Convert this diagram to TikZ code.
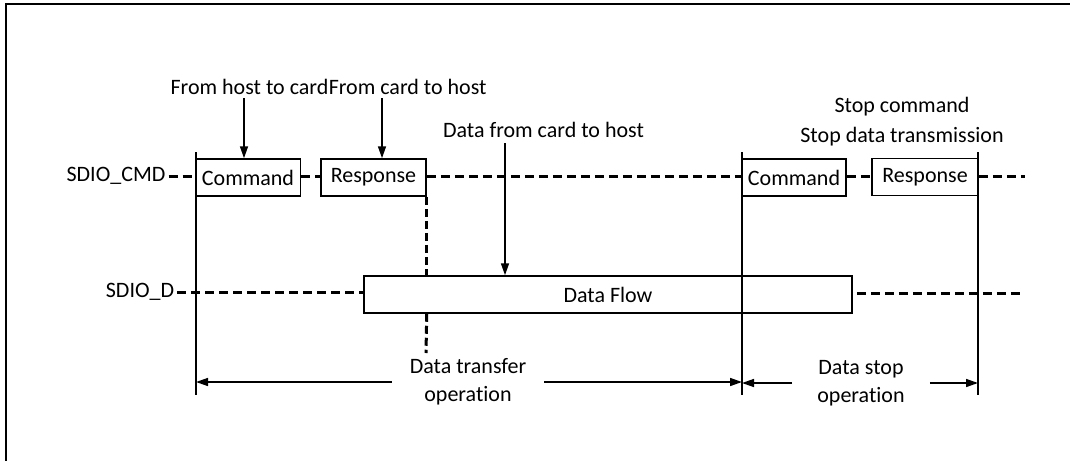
\documentclass[tikz,border=0pt]{standalone}
\usepackage{fontspec}
\setmainfont[Ligatures=NoCommon]{Carlito}
\usetikzlibrary{arrows.meta,positioning}
\begin{document}
\begin{tikzpicture}[x=1pt,y=-1pt,
	font=\fontsize{22}{28}\selectfont,
	frame/.style={ draw, line width=1.8pt },
	packet/.style={ draw, fill=white, line width=1.5pt, inner sep=0pt, minimum height=37pt },
	bus/.style={ line width=3pt, dash pattern=on 9pt off 5pt },
	busv/.style={ line width=3pt, dash pattern=on 8pt off 4pt },
	marker/.style={ line width=1.5pt },
	pointer/.style={ line width=1.5pt, -{Triangle[length=12pt,width=8pt]} },
	caption/.style={ inner sep=0pt, align=center }
]
\useasboundingbox (0,0) rectangle (1070,461);
\draw[frame] (1070,4) -- (6,4) -- (6,461);

% signal names
\node at (116,176) (cmd) [caption] {SDIO\_CMD};
\node at (140,292) (dat) [caption] {SDIO\_D};

% packets
\node at (248,177.5) (cmd1) [packet,minimum width=105pt] {Command};
\node at (373.5,177.5) (rsp1) [packet,minimum width=105pt] {Response};
\node at (794,177.5) (cmd2) [packet,minimum width=104pt] {Command};
\node at (925,177) (rsp2) [packet,minimum width=106pt] {Response};
\node at (608,294.5) (flow) [packet,minimum width=488pt] {Data Flow};

% dashed bus lines
\coordinate (cmdend) at (1025,176);
\coordinate (datend) at (1020,293);
\draw[bus] (cmd.east) ++(3,0) -- (cmd.east -| cmd1.west);
\draw[bus] (cmd1.east |- cmdend) -- (rsp1.west |- cmdend);
\draw[bus] (rsp1.east |- cmdend) -- (cmd2.west |- cmdend);
\draw[bus] (cmd2.east |- cmdend) -- (rsp2.west |- cmdend);
\draw[bus] (rsp2.east |- cmdend) -- (cmdend);
\draw[bus] (dat.east) ++(3,0) -- (dat.east -| flow.west);
\draw[bus] ([xshift=4pt]flow.east |- datend) -- (datend);

% timing markers
\coordinate (t1) at (196,152);
\coordinate (t2) at (742,152);
\coordinate (t3) at (978,152);
\coordinate (b1) at (196,395);
\coordinate (b2) at (742,395);
\coordinate (b3) at (978,395);
\draw[marker] (t1) -- (b1);
\draw[marker] (t2) -- (b2);
\draw[marker] (t3) -- (b3);
\coordinate (d1) at (426,353);
\draw[busv] (rsp1.south east) -- (rsp1.south east |- flow.north);
\draw[busv] (flow.south -| rsp1.east) -- (d1);

% annotations
\node at (249.5,87) (h2c) [caption] {From host to card};
\node (c2h) [caption,right=0pt of h2c] {From card to host};
\node at (543.5,130) (d2h) [caption] {Data from card to host};
\node at (902,122) (stop) [caption,font=\fontsize{22}{30}\selectfont] {Stop command\\Stop data transmission};
\coordinate (p1) at (244,98);
\coordinate (p2) at (382,98);
\coordinate (p3) at (505,143);
\draw[pointer] (p1) -- (p1 |- cmd1.north);
\draw[pointer] (p2) -- (p2 |- rsp1.north);
\draw[pointer] (p3) -- (p3 |- flow.north);

% operation spans
\node at (468,382) (xfer) [caption,inner xsep=18pt] {Data transfer\\operation};
\node at (861,383) (halt) [caption,inner xsep=25pt] {Data stop\\operation};
\draw[pointer] (xfer.west) -- (xfer.west -| t1);
\draw[pointer] (xfer.east) -- (xfer.east -| t2);
\draw[pointer] (halt.west) -- (halt.west -| t2);
\draw[pointer] (halt.east) -- (halt.east -| t3);

\end{tikzpicture}
\end{document}
